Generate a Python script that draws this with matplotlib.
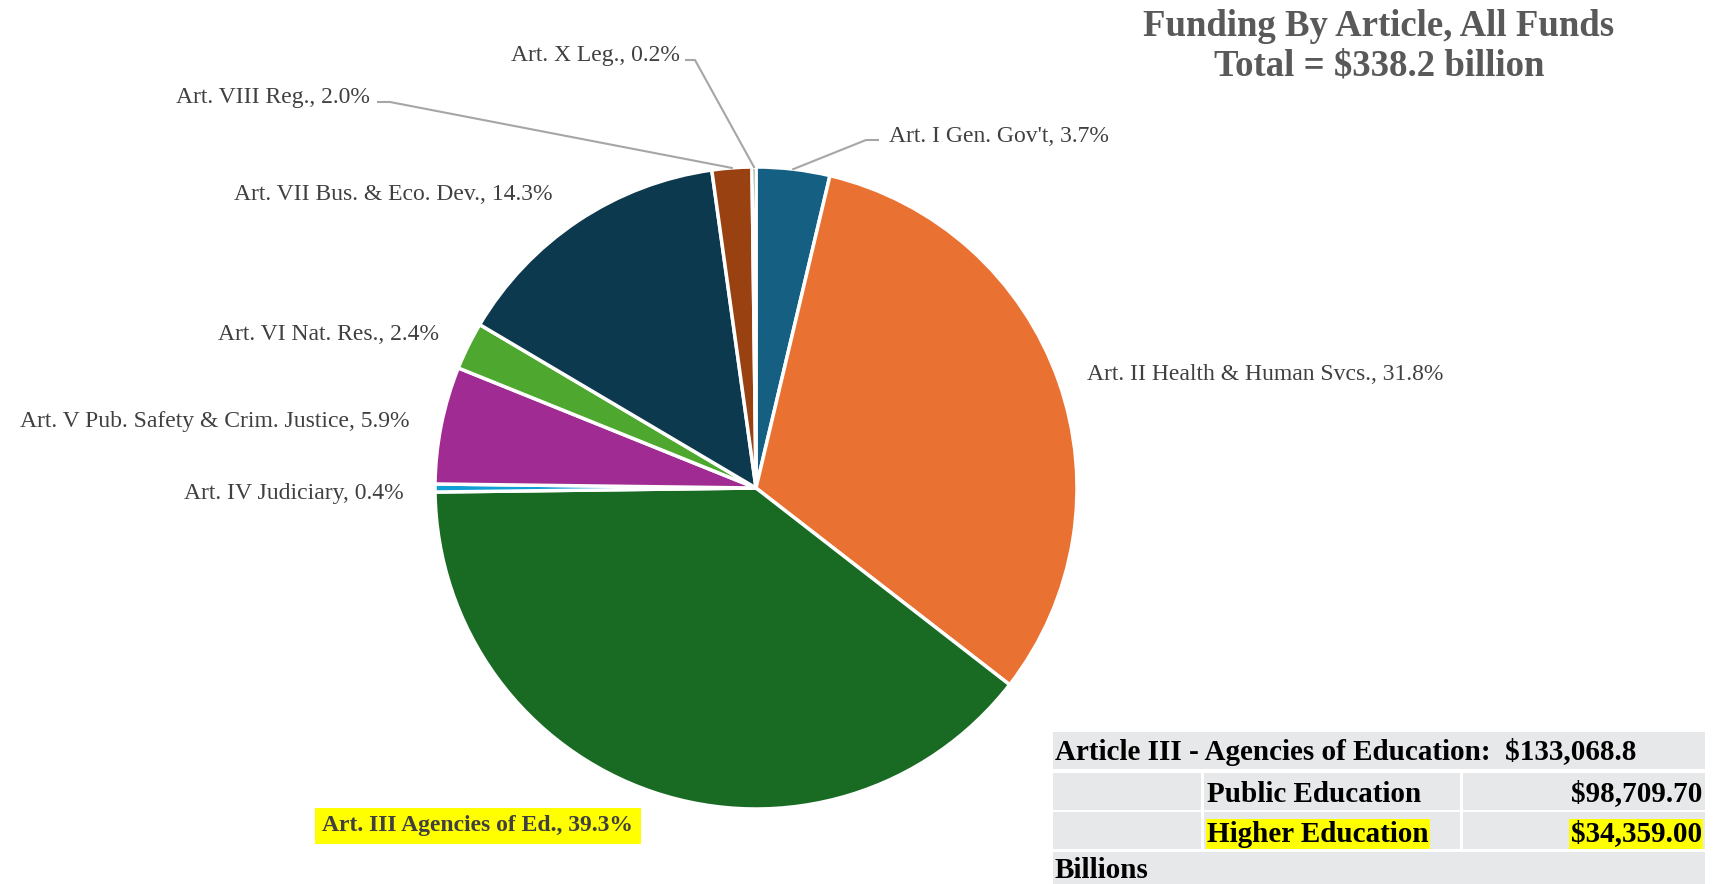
import matplotlib
matplotlib.use("Agg")
import matplotlib.pyplot as plt
from matplotlib.patches import Rectangle
import numpy as np

# datos
articulos = ["Art. I Gen. Gov't", "Art. II Health & Human Svcs.", "Art. III Agencies of Ed.",
             "Art. IV Judiciary", "Art. V Pub. Safety & Crim. Justice", "Art. VI Nat. Res.",
             "Art. VII Bus. & Eco. Dev.", "Art. VIII Reg.", "Art. X Leg."]
porcentajes = [3.7, 31.8, 39.3, 0.4, 5.9, 2.4, 14.3, 2.0, 0.2]
colores = ["#156082", "#E97132", "#196B24", "#0F9ED5", "#A02B93", "#4EA72E",
           "#0D394E", "#994111", "#0F4015"]

total_billones = 338.2
art3_total = 133068.8
sub_nombres = ["Public Education", "Higher Education"]
sub_valores = [98709.70, 34359.00]

W, H = 1716, 884
fig = plt.figure(figsize=(W / 100, H / 100), dpi=100)
plt.rcParams['font.family'] = ['Liberation Serif', 'DejaVu Serif']

# pie en pixeles
cx, cy, r = 756, 488, 321
ax = fig.add_axes([(cx - r) / W, (H - cy - r) / H, 2 * r / W, 2 * r / H])
wedges, _ = ax.pie(porcentajes, colors=colores, startangle=90, counterclock=False,
                   radius=1, wedgeprops=dict(edgecolor="white", linewidth=2.5))
ax.set_xlim(-1, 1)
ax.set_ylim(-1, 1)
ax.axis("off")

# capa superior en coordenadas de pixel
ov = fig.add_axes([0, 0, 1, 1])
ov.set_xlim(0, W)
ov.set_ylim(H, 0)
ov.axis("off")
ov.patch.set_alpha(0)

gris = "#404040"


def borde(i, k=1.0):
    w = wedges[i]
    a = np.deg2rad((w.theta1 + w.theta2) / 2)
    p = ax.transData.transform((k * np.cos(a), k * np.sin(a)))
    return ov.transData.inverted().transform(p)


# (x, y, alineacion, linea guia)
pos_labels = {
    0: (889, 136, "left", [(878, 140), (866, 140)]),
    1: (1087, 374, "left", None),
    3: (404, 493, "right", None),
    4: (409, 422, "right", None),
    5: (439, 334, "right", None),
    6: (553, 194, "right", None),
    7: (370, 98, "right", [(378, 102), (390, 102)]),
    8: (680, 55, "right", [(686, 60), (695, 60)]),
}

for i, (x, y, ha, guia) in pos_labels.items():
    ov.text(x, y, f"{articulos[i]}, {porcentajes[i]:.1f}%", ha=ha, va="center",
            fontsize=17, color=gris)
    if guia:
        ex, ey = borde(i, 1.0)
        xs = [p[0] for p in guia] + [ex]
        ys = [p[1] for p in guia] + [ey]
        ov.plot(xs, ys, color="#A6A6A6", lw=1.5)

# etiqueta resaltada Art. III
ov.text(478, 826, f"{articulos[2]}, {porcentajes[2]:.1f}%", ha="center", va="center",
        fontsize=17, fontweight="bold", color=gris,
        bbox=dict(boxstyle="square,pad=0.33", facecolor="yellow", edgecolor="none"))

# titulo
ov.text(1379, 26, "Funding By Article, All Funds", ha="center", va="center",
        fontsize=26.5, fontweight="bold", color="#595959")
ov.text(1379, 66, f"Total = ${total_billones} billion", ha="center", va="center",
        fontsize=26.5, fontweight="bold", color="#595959")

# tabla
gris_tabla = "#E7E8EA"
ov.add_patch(Rectangle((1053, 732), 652, 37, facecolor=gris_tabla, edgecolor="none"))
for top in (773, 812):
    ov.add_patch(Rectangle((1053, top), 148, 37, facecolor=gris_tabla, edgecolor="none"))
    ov.add_patch(Rectangle((1204, top), 256, 37, facecolor=gris_tabla, edgecolor="none"))
    ov.add_patch(Rectangle((1463, top), 242, 37, facecolor=gris_tabla, edgecolor="none"))
ov.add_patch(Rectangle((1053, 852), 652, 32, facecolor=gris_tabla, edgecolor="none"))

ov.text(1055, 752, f"Article III - Agencies of Education:  ${art3_total:,.1f}",
        ha="left", va="center", fontsize=21, fontweight="bold", color="black")
for j, (nombre, valor) in enumerate(zip(sub_nombres, sub_valores)):
    y = 794 + j * 40
    resalta = nombre == "Higher Education"
    caja = dict(boxstyle="square,pad=0.05", facecolor="yellow", edgecolor="none") if resalta else None
    ov.text(1207, y, nombre, ha="left", va="center", fontsize=21, fontweight="bold",
            color="black", bbox=caja)
    ov.text(1702, y, f"${valor:,.2f}", ha="right", va="center", fontsize=21,
            fontweight="bold", color="black", bbox=caja)
ov.text(1055, 871, "Billions", ha="left", va="center", fontsize=21, fontweight="bold",
        color="black")

fig.savefig("out.png", dpi=100)
